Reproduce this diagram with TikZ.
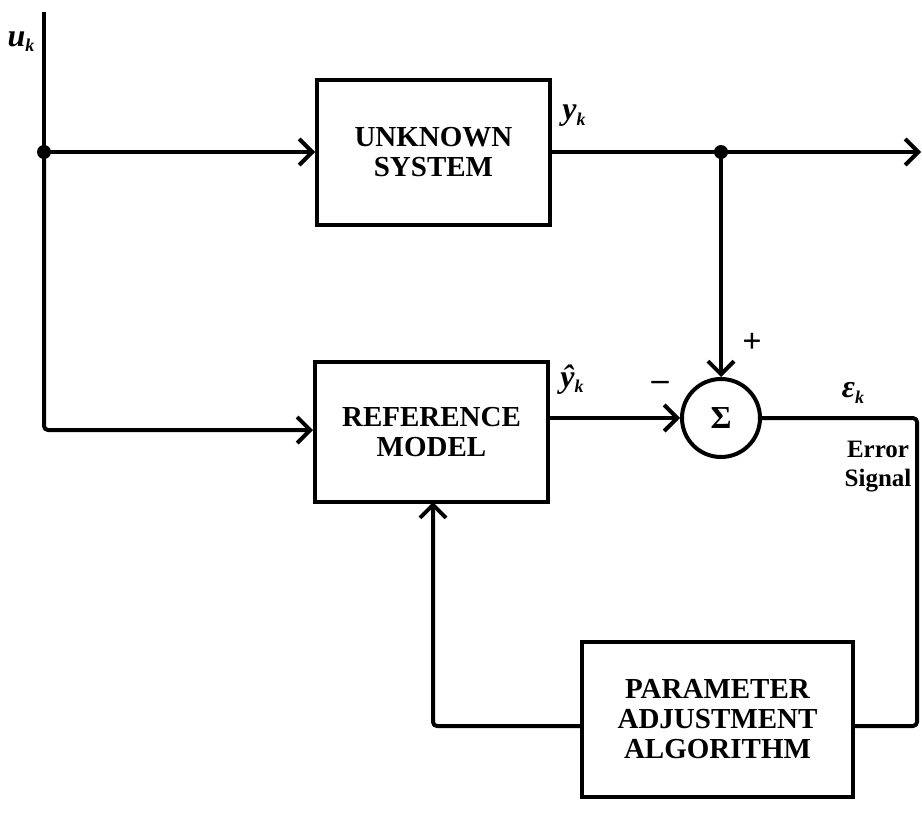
\documentclass[tikz,border=0pt]{standalone}
\usepackage{fontspec}
\setmainfont{Liberation Serif}
\usetikzlibrary{arrows.meta}
\newcommand\mysubk{\raisebox{-0.35ex}{\fontsize{18}{18}\selectfont\bfseries\itshape k}}
\begin{document}
\begin{tikzpicture}[x=1pt,y=-1pt,
  blk/.style={draw,line width=4pt,rectangle,align=center,font=\fontsize{29}{30}\selectfont\bfseries,inner sep=0pt},
  wire/.style={line width=4pt,line join=round},
  arr/.style={wire,-{Straight Barb[length=13pt,width=26pt,line width=4pt]}},
  lbl/.style={font=\fontsize{32}{34}\selectfont\bfseries\itshape,inner sep=1pt},
  dotj/.style={circle,fill,inner sep=0pt,minimum size=14pt}]
\useasboundingbox (0,0) rectangle (922,814);
\node[blk,minimum width=233pt,minimum height=145pt] (us) at (433.5,152) {UNKNOWN\\SYSTEM};
\node[blk,minimum width=233pt,minimum height=140pt] (rm) at (431.5,432) {REFERENCE\\MODEL};
\node[draw,circle,line width=4pt,minimum size=78pt,inner sep=0pt,font=\fontsize{32}{32}\selectfont\bfseries] (sum) at (721,418) {Σ};
\node[blk,minimum width=271pt,minimum height=155pt] (paa) at (717.5,719.5) {PARAMETER\\ADJUSTMENT\\ALGORITHM};
\coordinate (top) at (44,12);
\coordinate (ju) at (44,152);
\coordinate (jy) at (721,152);
\coordinate (out) at (921,152);
\coordinate (rc) at (917,418);
\node[dotj] at (ju) {};
\node[dotj] at (jy) {};
\draw[wire] (top) -- (ju);
\draw[arr] (ju) -- (us.west);
\draw[arr,rounded corners=4pt] (ju) -- (44,430) -- (rm.west |- 0,430);
\draw[wire] (us.east) -- (jy);
\draw[arr] (jy) -- (out);
\draw[arr] (jy) -- (sum.north);
\draw[arr] (rm.east |- sum.west) -- (sum.west);
\draw[wire,rounded corners=4pt] (sum.east) -- (rc) -- (917,726) -- (paa.east |- 0,726);
\draw[arr,rounded corners=4pt] (paa.west |- 0,726) -- (433,726) -- (433,502);
\node[lbl] at (21,42) {u\mysubk};
\node[lbl] at (574,116) {y\mysubk};
\node[lbl] at (572,380) {ŷ\mysubk};
\node[lbl] at (853,393) {ε\mysubk};
\node[font=\fontsize{34}{34}\selectfont\bfseries] at (752,343) {+};
\node[font=\fontsize{34}{34}\selectfont\bfseries] at (660,386) {\textendash};
\node[font=\fontsize{25}{29}\selectfont\bfseries,align=center] at (878,467) {Error\\Signal};
\end{tikzpicture}
\end{document}
